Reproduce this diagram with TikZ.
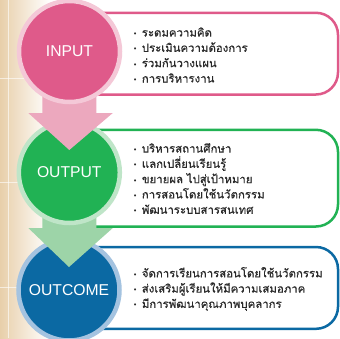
\documentclass[tikz,border=0pt]{standalone}
\usepackage{fontspec}
\setmainfont{Liberation Sans}
\newfontfamily\thaifont[Script=Thai,FakeBold=0.5]{Loma}
\newfontfamily\bulfont{DejaVu Sans}
\usetikzlibrary{calc}
\definecolor{pinkmain}{HTML}{DF5A8A}
\definecolor{pinkring}{HTML}{F4C8D7}
\definecolor{pinkarrow}{HTML}{ECA8BE}
\definecolor{greenmain}{HTML}{21B254}
\definecolor{greenring}{HTML}{BFE5C8}
\definecolor{greenarrow}{HTML}{9DD4A8}
\definecolor{bluemain}{HTML}{0B69A3}
\definecolor{bluering}{HTML}{A4C3E0}
\definecolor{beige}{HTML}{E8CFAA}
\definecolor{txt}{HTML}{2A2A2A}
\newcommand{\bl}{{\bulfont\fontsize{7}{7}\selectfont •}\hspace{4.5pt}}
\tikzset{
  stage/.style={circle, inner sep=0pt, minimum size=101pt, line width=4.5pt,
    text=white, font=\fontsize{15.7}{18}\selectfont},
  listbox/.style={line width=2.5pt, rounded corners=22pt, fill=white},
  listtext/.style={anchor=west, align=left, inner sep=0pt, text=txt,
    font=\thaifont\fontsize{11.4}{15.3}\selectfont}
}
\begin{document}
\begin{tikzpicture}[x=1pt,y=-1pt]
\useasboundingbox (0,0) rectangle (340,338);
% background strip
\shade[left color=beige, right color=white] (0,0) rectangle (50,338);
\draw[white, opacity=0.6, line width=0.8pt] (8,0) -- (8,338);
\draw[white, opacity=0.6, line width=0.8pt] (0,78) -- (30,78);
\draw[white, opacity=0.6, line width=0.8pt] (0,182) -- (30,182);
\draw[white, opacity=0.6, line width=0.8pt] (0,287) -- (30,287);
% boxes
\draw[listbox, draw=pinkmain] (70,12.8) -- (338,12.8) -- (338,94.5) -- (70,94.5);
\draw[listbox, draw=greenmain] (70,129.8) -- (338,129.8) -- (338,226.5) -- (70,226.5);
\draw[listbox, draw=bluemain] (70,247) -- (338,247) -- (338,328.8) -- (70,328.8);
% circles and arrows
\node[stage, fill=bluemain, draw=bluering] (oc) at (69,290) {OUTCOME};
\coordinate (outc) at (69.3,172.5);
\fill[greenarrow] ($(outc)+(-27,40)$) -- ($(outc)+(27,40)$)
  -- ($(outc)+(27,55.5)$) -- ($(outc)+(43.5,55.5)$)
  -- ($(oc.center)+(0,-23)$) -- ($(outc)+(-41,55.5)$)
  -- ($(outc)+(-27,55.5)$) -- cycle;
\node[stage, fill=greenmain, draw=greenring] (out) at (outc) {OUTPUT};
\fill[pinkarrow] ($(out.center)+(-27,-80)$) -- ($(out.center)+(27,-80)$)
  -- ($(out.center)+(27,-59.5)$) -- ($(out.center)+(43.5,-59.5)$)
  -- ($(out.center)+(0,-22.5)$) -- ($(out.center)+(-41,-59.5)$)
  -- ($(out.center)+(-27,-59.5)$) -- cycle;
\node[stage, fill=pinkmain, draw=pinkring] (in) at (69.5,51.5) {INPUT};
% lists
\node[listtext] (l1) at (133,55) {\bl ระดมความคิด\\\bl ประเมินความต้องการ\\\bl ร่วมกันวางแผน\\\bl การบริหารงาน};
\node[listtext] (l2) at (133,178.5) {\bl บริหารสถานศึกษา\\\bl แลกเปลี่ยนเรียนรู้\\\bl ขยายผล ไปสู่เป้าหมาย\\\bl การสอนโดยใช้นวัตกรรม\\\bl พัฒนาระบบสารสนเทศ};
\node[listtext] (l3) at (133,289) {\bl จัดการเรียนการสอนโดยใช้นวัตกรรม\\\bl ส่งเสริมผู้เรียนให้มีความเสมอภาค\\\bl มีการพัฒนาคุณภาพบุคลากร};
\end{tikzpicture}
\end{document}
